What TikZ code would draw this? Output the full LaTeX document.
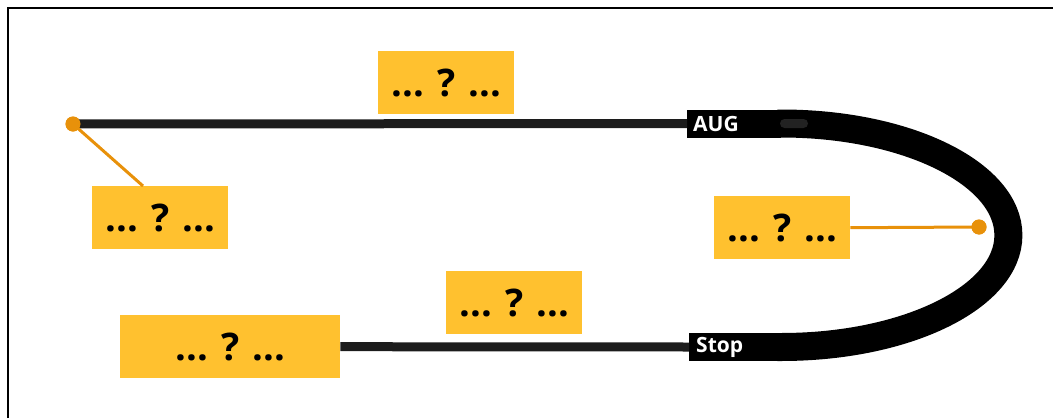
\documentclass[tikz,border=0pt]{standalone}
\usepackage{fontspec}
\setmainfont{Open Sans}
\definecolor{qyellow}{RGB}{255,193,47}
\definecolor{qorange}{RGB}{232,145,10}
\definecolor{qline}{RGB}{28,28,28}
\definecolor{qpill}{RGB}{34,34,34}
\begin{document}
\begin{tikzpicture}[x=1pt,y=-1pt,
  qbox/.style={fill=qyellow, draw=none, inner sep=0pt, anchor=north west,
    minimum width=136pt, minimum height=63pt,
    font=\bfseries\fontsize{38}{40}\selectfont},
  tag/.style={fill=black, text=white, anchor=west, inner ysep=0pt,
    minimum height=28pt, align=left,
    font=\bfseries\fontsize{21}{22}\selectfont},
  dot/.style={circle, fill=qorange, inner sep=0pt, minimum size=15pt},
  lead/.style={draw=qorange, line width=3pt},
  rail/.style={draw=qline, line width=9pt},
  band/.style={draw=black, line width=28pt}
]
\useasboundingbox (0,0) rectangle (1053,418);
% frame (partly visible)
\draw[line width=1.5pt] (8,418) -- (8,8) -- (1053,8);

% boxes
\node[qbox] (q1) at (92,186) {... ? ...};
\node[qbox] (q2) at (378,51) {... ? ...};
\node[qbox] (q3) at (714,196) {... ? ...};
\node[qbox] (q4) at (446,271) {... ? ...};
\node[qbox, minimum width=220pt] (q5) at (120,315) {... ? ...};

% tags
\node[tag, text width=82pt, inner xsep=6pt] (aug) at (687,123.5) {AUG};
\node[tag, text width=78pt, inner xsep=7pt] (stop) at (689,347) {Stop};

% dots
\node[dot] (d1) at (73,124) {};
\node[dot] (d2) at (979,227) {};
\coordinate (c1) at (143,186);

% rails
\draw[rail] (d1.center) -- (aug.west);
\draw[rail] (q5.east) -- (stop.west);

% U band
\draw[band] ([xshift=-4pt]aug.east) -- (aug.east)
  arc[start angle=-90, end angle=90, x radius=227, y radius=111.75]
  -- ([xshift=-4pt]stop.east);
\fill[qpill, rounded corners=4.5pt] (780,119) rectangle (808,128);

% leaders
\draw[lead] (d1.center) -- (c1);
\draw[lead] (q3.east) -- (d2.center);
\node[dot] at (d1) {};
\node[dot] at (d2) {};
\end{tikzpicture}
\end{document}
